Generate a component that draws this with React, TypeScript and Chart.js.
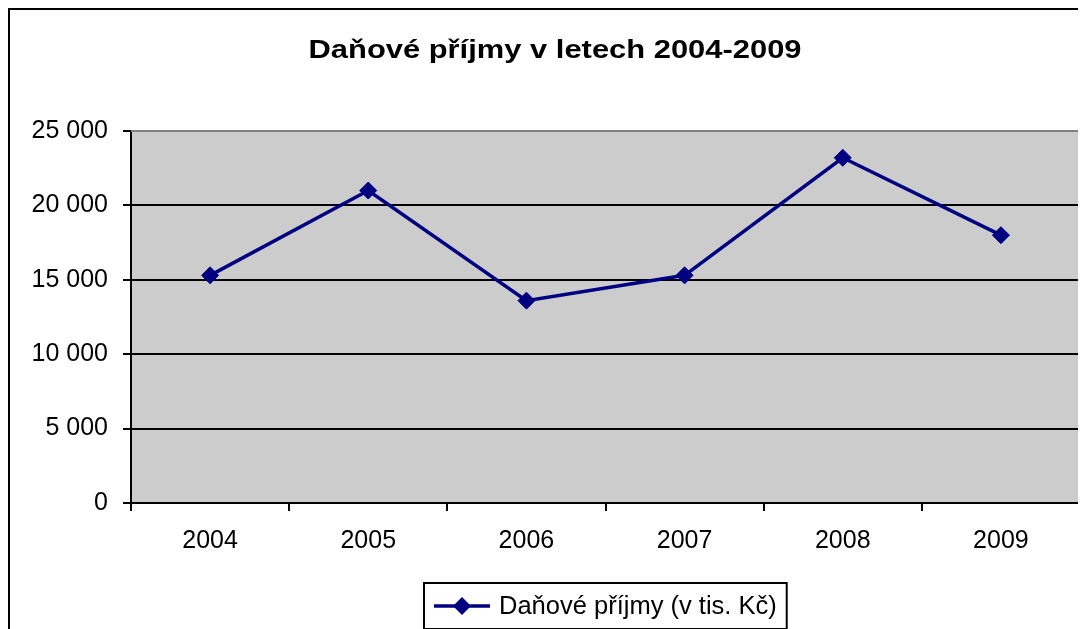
import { useEffect, useRef } from 'react';
import { Chart, registerables } from 'chart.js';

Chart.register(...registerables);

const categories = ['2004', '2005', '2006', '2007', '2008', '2009'];
const values = [15300, 21000, 13600, 15300, 23200, 18000];
const yTicks = [0, 5000, 10000, 15000, 20000, 25000];
const titleText = 'Daňové příjmy v letech 2004-2009';
const seriesLabel = 'Daňové příjmy (v tis. Kč)';

const FONT = '"Liberation Sans", Arial, sans-serif';
const NAVY = '#000080';
const W = 1090;
const H = 640;

function fmt(v: number): string {
  return String(v).replace(/\B(?=(\d{3})+(?!\d))/g, ' ');
}

const decorPlugin = {
  id: 'decor',
  beforeDraw(chart: any) {
    const { ctx, chartArea: a } = chart;
    ctx.save();
    ctx.fillStyle = '#cccccc';
    ctx.fillRect(a.left, a.top, a.right - a.left, a.bottom - a.top);
    ctx.restore();
  },
  beforeDatasetsDraw(chart: any) {
    const { ctx, chartArea: a } = chart;
    ctx.save();
    ctx.strokeStyle = '#808080';
    ctx.lineWidth = 2;
    ctx.beginPath();
    ctx.moveTo(a.left, a.top);
    ctx.lineTo(a.right, a.top);
    ctx.lineTo(a.right, a.bottom);
    ctx.stroke();
    ctx.restore();
  },
  afterDraw(chart: any) {
    const { ctx, chartArea: a, width } = chart;
    ctx.save();
    // title (wide bold rendering as in the reference)
    ctx.fillStyle = '#000';
    ctx.font = 'bold 26px ' + FONT;
    ctx.textAlign = 'center';
    ctx.textBaseline = 'alphabetic';
    const natural = ctx.measureText(titleText).width;
    const sx = 493 / natural;
    ctx.save();
    ctx.translate(width / 2, 48);
    ctx.scale(sx, 1);
    ctx.fillText(titleText, 0, 0);
    ctx.restore();

    // legend
    ctx.font = '25.5px ' + FONT;
    const tw = ctx.measureText(seriesLabel).width;
    const padL = 10, lineLen = 56, gap = 9, padR = 10;
    const boxW = padL + lineLen + gap + tw + padR;
    const boxH = 46;
    const cx = (a.left + a.right) / 2;
    const left = Math.round(cx - boxW / 2);
    const top = a.bottom + 80;
    ctx.strokeStyle = '#000';
    ctx.lineWidth = 2;
    ctx.strokeRect(left, top, boxW, boxH);
    const my = top + boxH / 2;
    ctx.strokeStyle = NAVY;
    ctx.lineWidth = 3.5;
    ctx.beginPath();
    ctx.moveTo(left + padL, my);
    ctx.lineTo(left + padL + lineLen, my);
    ctx.stroke();
    const dx = left + padL + lineLen / 2;
    ctx.fillStyle = NAVY;
    ctx.beginPath();
    const r = 9;
    ctx.moveTo(dx, my - r);
    ctx.lineTo(dx + r, my);
    ctx.lineTo(dx, my + r);
    ctx.lineTo(dx - r, my);
    ctx.closePath();
    ctx.fill();
    ctx.fillStyle = '#000';
    ctx.textAlign = 'left';
    ctx.textBaseline = 'middle';
    ctx.fillText(seriesLabel, left + padL + lineLen + gap, my + 1);
    ctx.restore();
  },
};

export default function App() {
  const ref = useRef<HTMLCanvasElement>(null);

  useEffect(() => {
    document.documentElement.style.overflow = 'hidden';
    document.body.style.overflow = 'hidden';
    const canvas = ref.current;
    if (!canvas) return;
    const chart = new Chart(canvas, {
      type: 'line',
      data: {
        labels: categories,
        datasets: [
          {
            label: seriesLabel,
            data: values,
            borderColor: NAVY,
            backgroundColor: NAVY,
            borderWidth: 3.5,
            pointStyle: 'rectRot',
            pointRadius: 8.5,
            pointBackgroundColor: NAVY,
            pointBorderColor: NAVY,
            pointBorderWidth: 1,
            tension: 0,
          },
        ],
      },
      options: {
        responsive: false,
        animation: false,
        devicePixelRatio: 1,
        layout: { padding: { top: 121, left: 0, right: 20, bottom: 87 } },
        plugins: {
          legend: { display: false },
          title: { display: false },
          tooltip: { enabled: false },
        },
        scales: {
          x: {
            type: 'category',
            offset: true,
            grid: {
              offset: true,
              drawOnChartArea: false,
              drawTicks: true,
              tickLength: 8,
              color: '#000',
              lineWidth: 2,
            },
            border: { display: true, color: '#000', width: 2 },
            ticks: {
              color: '#000',
              padding: 15,
              font: { family: FONT, size: 25 },
              maxRotation: 0,
            },
            afterFit(scale: any) {
              scale.height = 60;
            },
          },
          y: {
            min: 0,
            max: 25000,
            afterBuildTicks(scale: any) {
              scale.ticks = yTicks.map((v) => ({ value: v }));
            },
            grid: {
              color: (c: any) => (c.tick && c.tick.value === 25000 ? '#808080' : '#000'),
              lineWidth: 2,
              drawTicks: true,
              tickLength: 8,
              tickColor: '#000',
            },
            border: { display: true, color: '#000', width: 2 },
            ticks: {
              color: '#000',
              padding: 15,
              font: { family: FONT, size: 25 },
              callback: (v: any) => fmt(Number(v)),
            },
            afterFit(scale: any) {
              scale.width = 121;
            },
          },
        },
      },
      plugins: [decorPlugin],
    });
    return () => chart.destroy();
  }, []);

  return (
    <div style={{ border: '2px solid #000', width: W, height: H }}>
      <canvas ref={ref} width={W} height={H} style={{ display: 'block', width: W, height: H }} />
    </div>
  );
}
